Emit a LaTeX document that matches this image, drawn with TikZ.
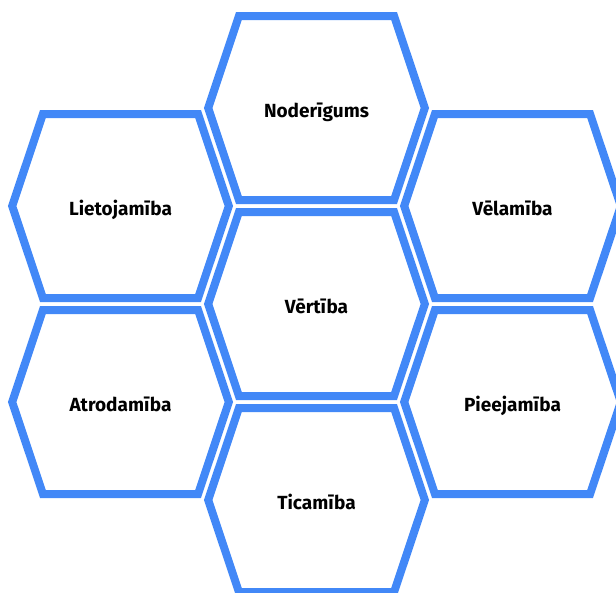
\documentclass[tikz,border=0pt]{standalone}
\usepackage{fontspec}
\setmainfont{Fira Sans}
\definecolor{hexblue}{RGB}{66,136,247}
\tikzset{
  hexline/.style={draw=hexblue, line width=8pt, line join=miter},
  hexlabel/.style={font=\bfseries\fontsize{19}{22}\selectfont, text=black, inner sep=0pt, anchor=base},
}
\newcommand{\hexdraw}[1]{%
  \draw[hexline] ([shift={(-108.3,-9)}]#1.base) -- ([shift={(-77.6,-101)}]#1.base)
    -- ([shift={(77.6,-101)}]#1.base) -- ([shift={(108.3,-9)}]#1.base)
    -- ([shift={(77.6,83)}]#1.base) -- ([shift={(-77.6,83)}]#1.base) -- cycle;}
\begin{document}
\begin{tikzpicture}[x=1pt,y=-1pt]
\useasboundingbox (0,0) rectangle (616,592);
\clip (0,0) rectangle (616,592);
\node[hexlabel] (nod) at (316.5,117) {Noderīgums};
\node[hexlabel] (ver) at (316.5,313) {Vērtība};
\node[hexlabel] (tic) at (316.5,509) {Ticamība};
\node[hexlabel] (lie) at (120.5,215) {Lietojamība};
\node[hexlabel] (atr) at (120.5,411) {Atrodamība};
\node[hexlabel] (vel) at (512.5,215) {Vēlamība};
\node[hexlabel] (pie) at (512.5,411) {Pieejamība};
\hexdraw{nod}
\hexdraw{ver}
\hexdraw{tic}
\hexdraw{lie}
\hexdraw{atr}
\hexdraw{vel}
\hexdraw{pie}
\end{tikzpicture}
\end{document}
